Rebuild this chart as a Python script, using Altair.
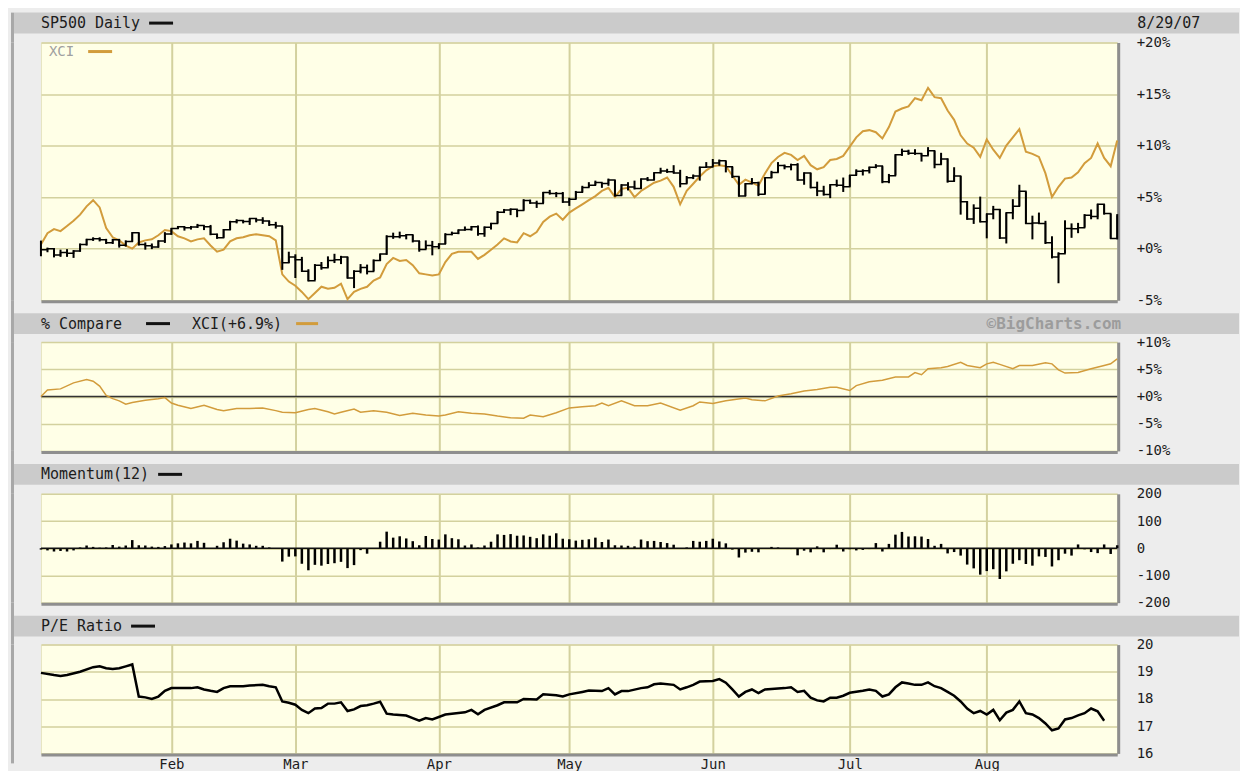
import json
import altair as alt
import pandas as pd

# ---------------- data ----------------
# x = trading-day index (0 = Jan 3 2007 ... 165 = Aug 29 2007)
month_idx = [20, 39, 61, 81, 103, 124, 145]
month_names = ["Feb", "Mar", "Apr", "May", "Jun", "Jul", "Aug"]

# SP500 daily, % change (close / high / low)
sp_close = [
    -0.12, 0.00, -0.61, -0.38, -0.44, -0.24, 0.39, 0.88, 0.96, 0.87,
    0.57, 0.86, 0.33, 0.68, 1.54, 0.39, 0.27, 0.16, 0.74, 1.41,
    1.95, 2.12, 2.02, 2.09, 2.24, 2.12, 1.39, 1.06, 1.83, 2.61,
    2.72, 2.63, 2.92, 2.77, 2.68, 2.32, 2.19, -1.36, -0.81,
    -1.07, -2.19, -3.11, -1.61, -1.86, -1.16, -1.09, -0.82, -2.84, -2.19,
    -1.83, -2.21, -1.14, -0.52, 1.18, 1.15, 1.26, 1.35, 0.73, -0.08, 0.30, 0.18,
    0.44, 1.37, 1.49, 1.80, 1.86, 2.12, 1.45, 2.08, 2.44, 3.53,
    3.75, 3.82, 3.70, 4.66, 4.42, 4.38, 5.44, 5.36, 5.34, 4.52,
    4.80, 5.47, 5.93, 6.16, 6.43, 6.31, 6.65, 5.16, 6.17, 5.98, 5.84,
    6.76, 6.66, 7.37, 7.53, 7.46, 7.33, 6.29, 6.87, 7.04, 7.89, 7.92,
    8.32, 8.52, 7.94, 6.99, 5.11, 6.30, 6.40, 5.27, 6.87, 7.38, 8.08,
    7.95, 8.14, 6.67, 7.33, 5.94, 5.60, 5.26, 6.21, 6.16, 6.00,
    7.13, 7.51, 7.55, 7.91, 8.01, 6.48, 7.08, 9.12, 9.46, 9.25, 9.24,
    9.02, 9.50, 8.16, 8.69, 6.54, 7.04, 4.54, 2.87, 3.92, 2.61,
    3.35, 3.80, 1.04, 3.48, 4.12, 5.58, 2.45, 2.49, 2.44, 0.58, -0.82,
    -0.50, 1.95, 1.92, 2.03, 3.23, 3.12, 4.31, 3.42, 0.99, 3.21,
]
sp_high = [
    0.78, 0.10, 0.05, -0.10, -0.05, -0.15, 0.50, 0.95, 1.10, 1.10,
    0.95, 0.95, 0.95, 0.80, 1.60, 1.55, 0.60, 0.50, 0.80, 1.60,
    2.00, 2.20, 2.15, 2.20, 2.40, 2.25, 2.30, 1.45, 1.90, 2.70,
    2.85, 2.75, 2.95, 2.95, 3.05, 2.70, 2.60, 2.18, -0.30,
    -0.55, -0.80, -2.00, -1.50, -1.30, -0.75, -0.50, -0.70, -0.80, -2.10,
    -1.50, -1.55, -1.05, -0.50, 1.30, 1.55, 1.65, 1.40, 1.35, 0.75, 0.80, 0.75,
    0.50, 1.50, 1.65, 1.85, 2.15, 2.20, 2.25, 2.15, 2.50, 3.65,
    3.85, 3.90, 3.80, 4.80, 4.75, 4.65, 5.50, 5.70, 5.50, 5.50,
    4.95, 5.60, 6.10, 6.45, 6.60, 6.40, 6.80, 6.65, 6.25, 6.45, 6.60,
    6.80, 6.95, 7.40, 7.85, 7.75, 8.10, 7.65, 7.05, 7.20, 7.95, 8.40,
    8.70, 8.65, 8.50, 7.95, 7.00, 6.35, 6.85, 6.50, 6.90, 7.55, 8.40,
    8.15, 8.25, 8.30, 7.40, 7.35, 6.50, 6.10, 6.25, 6.70, 6.90,
    7.15, 7.70, 7.70, 7.95, 8.20, 8.00, 7.25, 9.15, 9.70, 9.60, 9.65,
    9.25, 9.85, 9.50, 9.30, 8.75, 7.90, 7.05, 4.60, 4.30, 5.05,
    3.40, 4.15, 3.85, 3.50, 4.80, 6.20, 5.55, 3.20, 3.50, 2.70, 1.20,
    -0.35, 2.75, 2.45, 2.50, 3.35, 3.80, 4.35, 4.30, 3.40, 3.35,
]
sp_low = [
    -0.74, -0.35, -0.85, -0.80, -0.80, -0.90, -0.30, 0.30, 0.75, 0.70,
    0.45, 0.45, 0.10, 0.20, 0.65, 0.30, -0.10, -0.05, 0.10, 0.55,
    1.35, 1.90, 1.75, 1.85, 2.00, 1.80, 1.30, 0.95, 1.05, 1.80,
    2.45, 2.45, 2.30, 2.55, 2.40, 2.20, 1.95, -2.06, -1.40,
    -2.85, -2.25, -3.17, -3.05, -2.05, -1.85, -1.40, -1.50, -2.90, -3.83,
    -2.40, -2.50, -2.20, -1.20, -0.60, 0.95, 1.00, 0.90, 0.60, -0.30, -0.05, -0.65,
    -0.05, 0.45, 1.30, 1.40, 1.75, 1.75, 1.25, 1.15, 1.85, 2.45,
    3.45, 3.25, 3.05, 3.70, 4.35, 3.95, 4.40, 5.25, 5.00, 4.45,
    4.15, 4.80, 5.45, 5.95, 6.15, 5.90, 6.10, 5.05, 5.15, 5.65, 5.75,
    5.80, 6.55, 6.65, 7.30, 7.35, 7.30, 5.95, 6.30, 6.75, 6.60, 7.85,
    7.95, 8.05, 7.40, 6.85, 5.05, 5.10, 6.25, 5.10, 5.30, 6.85, 7.40,
    7.70, 7.60, 6.60, 6.20, 5.85, 5.10, 5.15, 4.90, 6.00, 5.50,
    6.00, 7.10, 7.10, 7.30, 7.80, 6.35, 6.35, 7.10, 9.00, 9.10, 9.10,
    8.45, 9.05, 7.80, 8.15, 6.40, 6.50, 3.30, 2.80, 2.40, 2.55,
    1.00, 2.85, 0.95, 0.50, 2.85, 4.10, 2.40, 0.90, 2.40, 0.45, -0.95,
    -3.36, -0.45, 1.05, 1.50, 2.05, 2.85, 2.85, 3.30, 0.95, 0.90,
]
# XCI, % change
xci_pct = [
    0.4, 1.5, 1.9, 1.7, 2.2, 2.7, 3.3, 4.1, 4.7, 4.0,
    2.0, 1.1, 0.8, 0.3, 0.0, 0.6, 0.8, 0.9, 1.3, 1.8,
    1.7, 1.2, 1.0, 0.7, 0.9, 1.0, 0.3, -0.3, -0.1, 0.7,
    1.0, 1.1, 1.3, 1.4, 1.3, 1.2, 0.8, -2.5, -3.2,
    -3.6, -4.2, -4.9, -4.3, -3.7, -3.9, -3.8, -3.4, -4.9, -4.2,
    -3.9, -3.7, -3.1, -2.8, -1.5, -0.9, -1.2, -1.1, -1.6, -2.4, -2.5, -2.6,
    -2.5, -1.3, -0.5, -0.3, -0.3, -0.3, -1.0, -0.6, -0.1, 0.4,
    1.0, 0.7, 0.6, 1.5, 1.2, 1.6, 2.6, 3.1, 3.4, 2.8,
    3.5, 3.9, 4.3, 4.7, 5.1, 5.6, 5.9, 5.0, 5.8, 5.9, 5.0,
    5.6, 6.0, 6.4, 6.6, 6.9, 6.0, 4.3, 5.6, 6.3, 7.0, 7.6,
    8.0, 8.1, 8.0, 7.1, 6.2, 6.7, 6.4, 6.1, 7.3, 8.3, 8.9,
    9.3, 9.1, 8.6, 9.0, 8.1, 7.7, 7.9, 8.6, 8.7, 9.0,
    9.9, 10.8, 11.4, 11.5, 11.3, 10.7, 11.8, 13.3, 13.6, 13.8, 14.6,
    14.4, 15.6, 14.7, 14.6, 13.4, 12.5, 11.0, 10.2, 9.8, 8.9,
    10.6, 9.6, 8.8, 10.0, 10.8, 11.6, 9.4, 9.2, 8.9, 7.3, 5.0,
    6.0, 6.8, 6.9, 7.4, 8.3, 8.8, 10.2, 8.8, 8.0, 10.5,
]
# Momentum(12), index points
mom_val = [
    -5, -8, -12, -10, -12, -8, 3, 10, 5, 2,
    3, 12, 6, 10, 30, 11, 10, 6, 5, 8,
    14, 18, 21, 18, 27, 20, -2, 9, 22, 35,
    28, 17, 14, 9, 9, 3, -1, -49, -31,
    -30, -57, -81, -61, -64, -58, -55, -50, -73, -62,
    -7, -20, -1, 24, 61, 39, 44, 36, 26, 11, 45, 34,
    32, 51, 37, 33, 10, 14, 3, 10, 24, 51,
    49, 52, 46, 47, 42, 37, 51, 46, 55, 35,
    33, 28, 31, 33, 39, 23, 32, 11, 10, 9, 7,
    32, 26, 27, 23, 19, 13, 0, 3, 27, 24, 27,
    35, 25, 18, -5, -34, -16, -13, -15, 0, 5, 3,
    0, -3, -26, -9, -15, 7, -15, -3, 13, -12,
    -4, -8, -6, -3, 19, -12, 16, 50, 60, 43, 44,
    43, 34, 9, 16, -19, -14, -27, -60, -74, -97,
    -84, -77, -113, -85, -57, -44, -58, -64, -30, -32, -67,
    -44, -20, -27, 14, -4, -14, -18, 14, -21, 11,
]
# % Compare (XCI vs SP500)
cmp_idx = [0, 1, 3, 5, 7, 8, 9, 10, 11, 12, 13, 14, 16, 18, 19, 20, 21, 23, 25, 27,
           28, 30, 32, 34, 36, 37, 39, 41, 42, 44, 45, 46, 48, 49, 51, 53, 55, 57, 59, 61,
           62, 64, 66, 68, 70, 72, 74, 75, 77, 79, 81, 83, 85, 86, 87, 89, 91, 93, 95, 98,
           100, 101, 103, 105, 108, 109, 111, 113, 115, 117, 119, 121, 122, 124, 125, 127,
           129, 131, 133, 134, 135, 136, 138, 139, 141, 142, 144, 145, 146, 147, 149, 150,
           152, 154, 155, 156, 157, 159, 161, 163, 164, 165]
cmp_val = [0.0, 1.2, 1.4, 2.5, 3.1, 2.8, 1.9, 0.2, -0.4, -0.8, -1.4, -1.1, -0.7, -0.4, -0.2,
           -1.2, -1.6, -2.2, -1.6, -2.4, -2.6, -2.2, -2.2, -2.1, -2.6, -2.9, -3.0, -2.4, -2.2,
           -2.8, -3.2, -2.9, -2.3, -2.9, -2.6, -2.9, -3.5, -3.1, -3.4, -3.6, -3.4, -2.8, -3.1,
           -3.2, -3.6, -3.9, -4.0, -3.4, -3.7, -3.0, -2.1, -1.9, -1.7, -1.2, -1.7, -0.8, -1.7,
           -1.7, -1.2, -2.5, -1.7, -1.0, -1.3, -0.8, -0.3, -0.6, -0.8, 0.1, 0.5, 1.0, 1.3, 1.7,
           1.7, 1.1, 2.0, 2.7, 3.0, 3.6, 3.6, 4.4, 4.0, 5.1, 5.3, 5.5, 6.3, 5.7, 5.3, 6.0, 6.3,
           5.9, 5.1, 5.7, 5.7, 6.2, 6.0, 4.9, 4.3, 4.4, 5.1, 5.7, 6.0, 6.9]
# P/E ratio
pe_idx = [0, 2, 3, 4, 6, 8, 9, 10, 11, 12, 13, 14, 15, 16, 17, 18, 19, 20, 23, 24,
          25, 26, 27, 28, 29, 31, 32, 34, 35, 36, 37, 38, 39, 40, 41, 42, 43, 44, 45, 46,
          47, 48, 49, 50, 51, 52, 53, 54, 56, 57, 58, 59, 60, 62, 63, 65, 66, 67, 68, 70,
          71, 73, 74, 76, 77, 79, 80, 81, 83, 84, 86, 87, 88, 89, 90, 92, 93, 94, 95, 97,
          98, 99, 100, 101, 103, 104, 105, 106, 107, 108, 109, 110, 111, 114, 115, 116, 117,
          118, 119, 120, 121, 122, 123, 124, 126, 127, 128, 129, 130, 131, 132, 133, 134,
          135, 136, 137, 138, 139, 140, 141, 142, 143, 144, 145, 146, 147, 148, 149, 150,
          151, 152, 153, 154, 155, 156, 157, 158, 159, 160, 161, 162, 163]
pe_val = [18.96, 18.88, 18.85, 18.88, 19.0, 19.17, 19.2, 19.13, 19.1, 19.13, 19.2, 19.27,
          18.09, 18.06, 18.0, 18.09, 18.3, 18.4, 18.4, 18.43, 18.35, 18.3, 18.26, 18.4, 18.47,
          18.47, 18.5, 18.52, 18.47, 18.43, 17.91, 17.86, 17.79, 17.6, 17.48, 17.65, 17.67,
          17.83, 17.83, 17.88, 17.56, 17.62, 17.74, 17.77, 17.83, 17.9, 17.46, 17.43, 17.39,
          17.3, 17.2, 17.3, 17.25, 17.43, 17.46, 17.51, 17.6, 17.44, 17.6, 17.77, 17.88, 17.88,
          18.0, 17.98, 18.17, 18.14, 18.09, 18.17, 18.26, 18.31, 18.29, 18.4, 18.17, 18.29,
          18.29, 18.4, 18.43, 18.54, 18.57, 18.52, 18.35, 18.43, 18.52, 18.64, 18.66, 18.73,
          18.6, 18.35, 18.09, 18.26, 18.35, 18.22, 18.35, 18.4, 18.43, 18.26, 18.3, 18.05,
          17.95, 17.91, 18.05, 18.05, 18.12, 18.23, 18.3, 18.35, 18.3, 18.09, 18.17, 18.43,
          18.61, 18.57, 18.52, 18.52, 18.61, 18.47, 18.4, 18.26, 18.12, 17.91, 17.65, 17.48,
          17.56, 17.43, 17.6, 17.22, 17.5, 17.6, 17.91, 17.48, 17.43, 17.3, 17.1, 16.85,
          16.92, 17.25, 17.3, 17.4, 17.48, 17.65, 17.55, 17.2]

y1_ticks = [-5, 0, 5, 10, 15, 20]
y2_ticks = [-10, -5, 0, 5, 10]
y3_ticks = [-200, -100, 0, 100, 200]
y4_ticks = [16, 17, 18, 19, 20]

# ---------------- styling ----------------
FONT = "DejaVu Sans Mono"
TXT = "#1c1c1c"
GOLD = "#D29C3C"
GRID = "#D3D19E"
FILL = "#FFFFE7"
BG = "#EDEDED"
HEAD = "#CBCBCB"
SHADOW = "#8E8E8E"
EDGE = "#A8A8A8"
W = 1078
FS = 15
CW = 0.602 * FS

days = list(range(len(sp_close)))
df_sp = pd.DataFrame({"day": days, "close": sp_close, "high": sp_high, "low": sp_low,
                      "xci": xci_pct, "mom": mom_val})
df_cmp = pd.DataFrame({"day": cmp_idx, "cmp": cmp_val})
df_pe = pd.DataFrame({"day": pe_idx, "pe": pe_val})
one = pd.DataFrame({"k": [0]})

xs = alt.Scale(domain=[0, len(days) - 1], nice=False, zero=False)
month_expr = "{}[indexof({}, datum.value)]".format(json.dumps(month_names), json.dumps(month_idx))
pct_expr = "(datum.value > 0 ? '+' + datum.value : datum.value == 0 ? '+0' : '-' + abs(datum.value)) + '%'"
num_expr = "datum.value < 0 ? '-' + abs(datum.value) : '' + datum.value"


def xaxis(labels):
    return alt.Axis(values=month_idx, grid=True, gridColor=GRID, gridWidth=2, ticks=False,
                    domain=True, domainColor=SHADOW, domainWidth=3, offset=1,
                    labels=labels, labelExpr=month_expr, labelFont=FONT, labelFontSize=14,
                    labelColor=TXT, labelPadding=3, labelBaseline="top", title=None)


def yaxis(values, expr):
    return alt.Axis(orient="right", values=values, grid=True, gridColor=GRID, gridWidth=1.5,
                    ticks=False, domain=True, domainColor=SHADOW, domainWidth=3, offset=1,
                    labelExpr=expr, labelFont=FONT, labelFontSize=14, labelColor=TXT,
                    labelPadding=18, title=None)


def txt(s, x, y, color=TXT, size=FS, weight="normal", align="left"):
    return alt.Chart(one).mark_text(text=s, align=align, baseline="middle", font=FONT,
                                    fontSize=size, fontWeight=weight, color=color).encode(
        x=alt.value(x), y=alt.value(y))


def dash(x0, length, y, color):
    return alt.Chart(one).mark_rule(color=color, strokeWidth=3).encode(
        x=alt.value(x0), x2=alt.value(x0 + length), y=alt.value(y))


def border(h):
    return alt.Chart(one).mark_rule(color=EDGE, strokeWidth=3).encode(
        x=alt.value(-28.5), y=alt.value(0), y2=alt.value(h))


def header(h, top, layers):
    bar = alt.Chart(one).mark_rect(color=HEAD).encode(
        x=alt.value(-27), x2=alt.value(1200), y=alt.value(top), y2=alt.value(top + 21))
    return alt.layer(border(h), bar, *layers).properties(
        width=W, height=h, view=alt.ViewBackground(fill="transparent", stroke="transparent"))


def panel(layers, h, border_h=None):
    return alt.layer(border(border_h or h), *layers).properties(
        width=W, height=h, view=alt.ViewBackground(fill=FILL, stroke="#E6E4C0"))


# ---------------- header 1 + price panel ----------------
t1 = "SP500 Daily"
h1 = header(30, 0, [txt(t1, 0, 10.5), dash(len(t1) * CW + 9, 24, 10.5, "#111111"),
                    txt("8/29/07", 1098, 10.5)])

H1 = 258
y1s = alt.Scale(domain=[-5, 20], nice=False, zero=False)
y1a = yaxis(y1_ticks, pct_expr)
xci_line = alt.Chart(df_sp).mark_line(color=GOLD, strokeWidth=2).encode(
    x=alt.X("day:Q", scale=xs, axis=xaxis(False)), y=alt.Y("xci:Q", scale=y1s, axis=y1a))
hl_bars = alt.Chart(df_sp).mark_rule(color="#000000", strokeWidth=2).encode(
    x=alt.X("day:Q", scale=xs, axis=xaxis(False)), y=alt.Y("low:Q", scale=y1s, axis=y1a),
    y2="high:Q")
close_line = alt.Chart(df_sp).mark_line(color="#000000", strokeWidth=1.5,
                                        interpolate="step-after").encode(
    x=alt.X("day:Q", scale=xs, axis=xaxis(False)), y=alt.Y("close:Q", scale=y1s, axis=y1a))
p1 = panel([xci_line, hl_bars, close_line,
            txt("XCI", 8, 9, color="#A0A0A0", size=14),
            dash(8 + 3 * 0.602 * 14 + 14, 24, 9, GOLD)], H1)

# ---------------- header 2 + compare panel ----------------
c1 = "% Compare"
c2 = "XCI(+6.9%)"
d1x = len(c1) * CW + 24
t2x = d1x + 24 + 22
d2x = t2x + len(c2) * CW + 14
h2 = header(42, 13, [txt(c1, 0, 23.5), dash(d1x, 24, 23.5, "#111111"),
                     txt(c2, t2x, 23.5), dash(d2x, 22, 23.5, GOLD),
                     txt("©BigCharts.com", 1082, 23.5, color="#9C9C9C", size=16,
                         weight="bold", align="right")])

H2 = 109
y2s = alt.Scale(domain=[-10, 10], nice=False, zero=False)
y2a = yaxis(y2_ticks, pct_expr)
zero2 = alt.Chart(one).mark_rule(color="#333333", strokeWidth=1.5).encode(
    y=alt.YDatum(0, scale=y2s, axis=y2a))
cmp_line = alt.Chart(df_cmp).mark_line(color=GOLD, strokeWidth=1.5).encode(
    x=alt.X("day:Q", scale=xs, axis=xaxis(False)), y=alt.Y("cmp:Q", scale=y2s, axis=y2a))
p2 = panel([zero2, cmp_line], H2)

# ---------------- header 3 + momentum panel ----------------
m1 = "Momentum(12)"
h3 = header(43, 13, [txt(m1, 0, 23.5), dash(len(m1) * CW + 9, 24, 23.5, "#111111")])

H3 = 109
y3s = alt.Scale(domain=[-200, 200], nice=False, zero=False)
y3a = yaxis(y3_ticks, num_expr)
mom_bars = alt.Chart(df_sp).mark_rule(color="#000000", strokeWidth=2.5).encode(
    x=alt.X("day:Q", scale=xs, axis=xaxis(False)), y=alt.Y("mom:Q", scale=y3s, axis=y3a),
    y2=alt.datum(0))
zero3 = alt.Chart(one).mark_rule(color="#111111", strokeWidth=1.5).encode(
    y=alt.YDatum(0, scale=y3s, axis=y3a))
p3 = panel([mom_bars, zero3], H3)

# ---------------- header 4 + P/E panel ----------------
r1 = "P/E Ratio"
h4 = header(42, 13, [txt(r1, 0, 23.5), dash(len(r1) * CW + 9, 24, 23.5, "#111111")])

H4 = 109
y4s = alt.Scale(domain=[16, 20], nice=False, zero=False)
y4a = yaxis(y4_ticks, num_expr)
pe_line = alt.Chart(df_pe).mark_line(color="#000000", strokeWidth=2.5).encode(
    x=alt.X("day:Q", scale=xs, axis=xaxis(True)), y=alt.Y("pe:Q", scale=y4s, axis=y4a))
p4 = panel([pe_line], H4, border_h=H4 + 10)

chart = alt.vconcat(h1, p1, h2, p2, h3, p3, h4, p4, spacing=0, bounds="flush").properties(
    padding={"left": 2, "top": 2, "right": 0, "bottom": 0}, background=BG
).configure_view(stroke="transparent")

chart.save("out.html", embed_options={"renderer": "svg", "actions": False})
